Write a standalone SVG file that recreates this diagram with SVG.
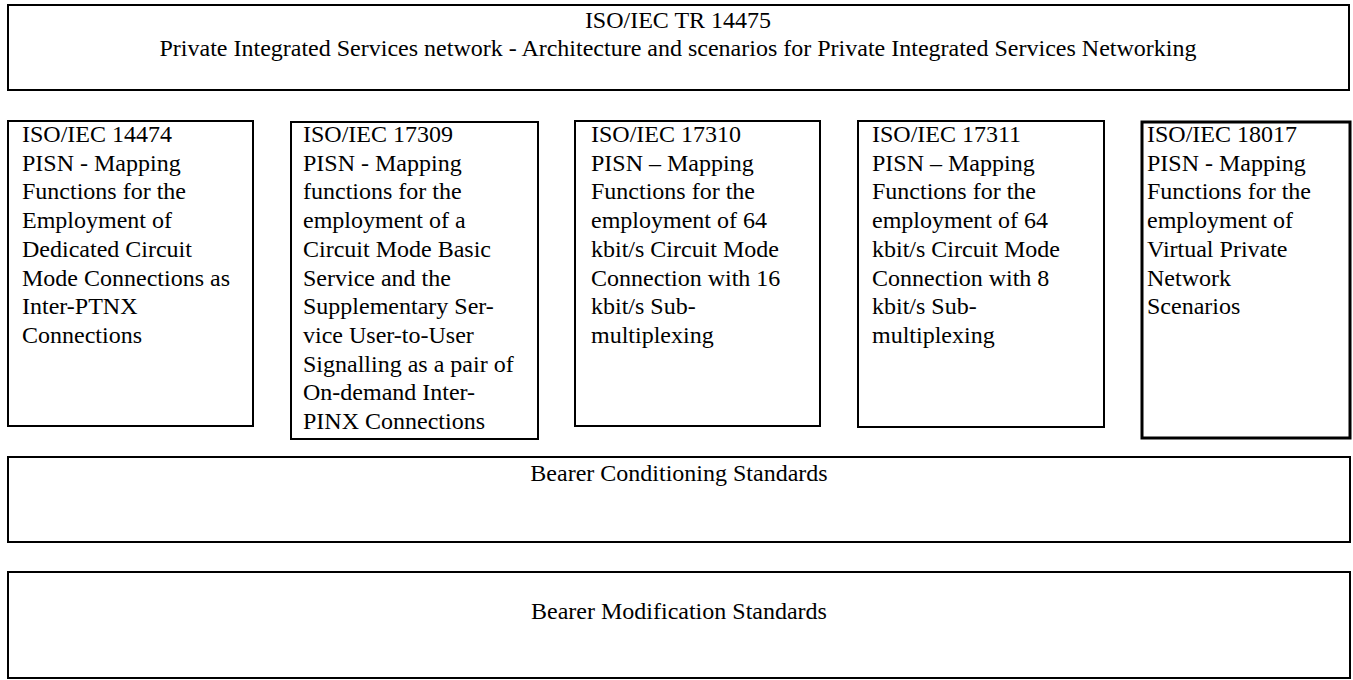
<svg xmlns="http://www.w3.org/2000/svg" width="1353" height="680" viewBox="0 0 1353 680">
  <style>
    .box { fill: #ffffff; stroke: #000000; stroke-width: 2; }
    .box.heavy { stroke-width: 3; }
    text { font-family: "Liberation Serif", "Times New Roman", serif; font-size: 24px; fill: #000000; }
    .c { text-anchor: middle; }
  </style>
  <rect width="1353" height="680" fill="#ffffff"/>

  <!-- Architecture technical report -->
  <g id="tr14475">
    <rect class="box" x="8" y="5" width="1341" height="85"/>
    <text class="c" x="678" y="27.5">ISO/IEC TR 14475</text>
    <text class="c" x="678" y="56">Private Integrated Services network - Architecture and scenarios for Private Integrated Services Networking</text>
  </g>

  <!-- Mapping functions standards -->
  <g id="is14474">
    <rect class="box" x="8" y="121" width="245" height="305"/>
    <text x="22" y="142">
      <tspan x="22" dy="0">ISO/IEC 14474</tspan>
      <tspan x="22" dy="28.7">PISN - Mapping</tspan>
      <tspan x="22" dy="28.7">Functions for the</tspan>
      <tspan x="22" dy="28.7">Employment of</tspan>
      <tspan x="22" dy="28.7">Dedicated Circuit</tspan>
      <tspan x="22" dy="28.7">Mode Connections as</tspan>
      <tspan x="22" dy="28.7">Inter-PTNX</tspan>
      <tspan x="22" dy="28.7">Connections</tspan>
    </text>
  </g>

  <g id="is17309">
    <rect class="box" x="291" y="122" width="247" height="317"/>
    <text x="303" y="142">
      <tspan x="303" dy="0">ISO/IEC 17309</tspan>
      <tspan x="303" dy="28.7">PISN - Mapping</tspan>
      <tspan x="303" dy="28.7">functions for the</tspan>
      <tspan x="303" dy="28.7">employment of a</tspan>
      <tspan x="303" dy="28.7">Circuit Mode Basic</tspan>
      <tspan x="303" dy="28.7">Service and the</tspan>
      <tspan x="303" dy="28.7">Supplementary Ser-</tspan>
      <tspan x="303" dy="28.7">vice User-to-User</tspan>
      <tspan x="303" dy="28.7">Signalling as a pair of</tspan>
      <tspan x="303" dy="28.7">On-demand Inter-</tspan>
      <tspan x="303" dy="28.7">PINX Connections</tspan>
    </text>
  </g>

  <g id="is17310">
    <rect class="box" x="575" y="121" width="245" height="305"/>
    <text x="591" y="142">
      <tspan x="591" dy="0">ISO/IEC 17310</tspan>
      <tspan x="591" dy="28.7">PISN – Mapping</tspan>
      <tspan x="591" dy="28.7">Functions for the</tspan>
      <tspan x="591" dy="28.7">employment of 64</tspan>
      <tspan x="591" dy="28.7">kbit/s Circuit Mode</tspan>
      <tspan x="591" dy="28.7">Connection with 16</tspan>
      <tspan x="591" dy="28.7">kbit/s Sub-</tspan>
      <tspan x="591" dy="28.7">multiplexing</tspan>
    </text>
  </g>

  <g id="is17311">
    <rect class="box" x="858" y="121" width="246" height="306"/>
    <text x="872" y="142">
      <tspan x="872" dy="0">ISO/IEC 17311</tspan>
      <tspan x="872" dy="28.7">PISN – Mapping</tspan>
      <tspan x="872" dy="28.7">Functions for the</tspan>
      <tspan x="872" dy="28.7">employment of 64</tspan>
      <tspan x="872" dy="28.7">kbit/s Circuit Mode</tspan>
      <tspan x="872" dy="28.7">Connection with 8</tspan>
      <tspan x="872" dy="28.7">kbit/s Sub-</tspan>
      <tspan x="872" dy="28.7">multiplexing</tspan>
    </text>
  </g>

  <g id="is18017">
    <rect class="box heavy" x="1142" y="122" width="208" height="316"/>
    <text x="1147" y="142">
      <tspan x="1147" dy="0">ISO/IEC 18017</tspan>
      <tspan x="1147" dy="28.7">PISN - Mapping</tspan>
      <tspan x="1147" dy="28.7">Functions for the</tspan>
      <tspan x="1147" dy="28.7">employment of</tspan>
      <tspan x="1147" dy="28.7">Virtual Private</tspan>
      <tspan x="1147" dy="28.7">Network</tspan>
      <tspan x="1147" dy="28.7">Scenarios</tspan>
    </text>
  </g>

  <!-- Bearer layers -->
  <g id="bearer-conditioning">
    <rect class="box" x="8" y="457" width="1342" height="85"/>
    <text class="c" x="679" y="481">Bearer Conditioning Standards</text>
  </g>

  <g id="bearer-modification">
    <rect class="box" x="8" y="572" width="1342" height="106"/>
    <text class="c" x="679" y="619">Bearer Modification Standards</text>
  </g>

  <g id="connectors"/>
</svg>
